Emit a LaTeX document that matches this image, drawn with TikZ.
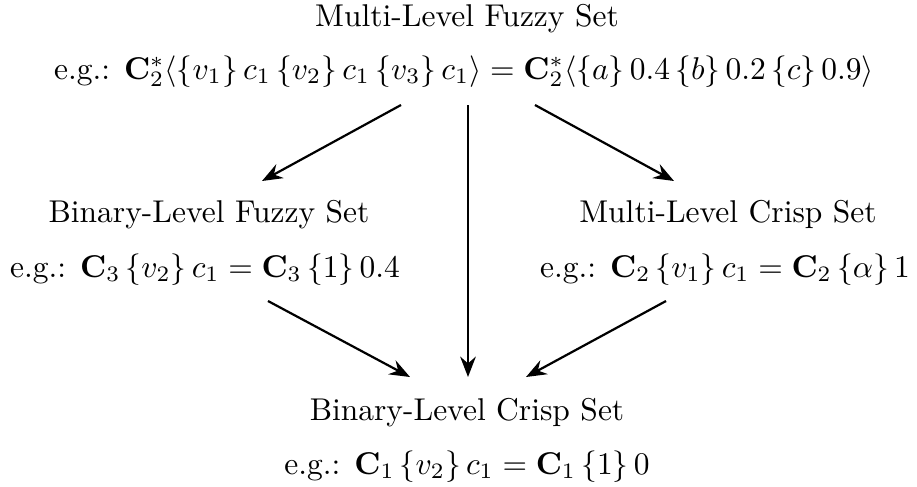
\documentclass[tikz,border=0pt]{standalone}
\usetikzlibrary{arrows.meta}
\begin{document}
\begin{tikzpicture}[x=0.31746pt,y=-0.31746pt,
  lbl/.style={inner sep=0pt, anchor=base},
  conn/.style={-{Stealth[length=6.5pt,width=5pt,inset=2.2pt]}, line width=0.7pt}]
\useasboundingbox (0,0) rectangle (917,486);
% top block
\node[lbl] (t1) at (467,26) {Multi-Level Fuzzy Set};
\node[lbl] (t2) at (464,79) {e.g.: $\mathbf{C}_2^*\langle\{v_1\}\,c_1\,\{v_2\}\,c_1\,\{v_3\}\,c_1\rangle = \mathbf{C}_2^*\langle\{a\}\,0.4\,\{b\}\,0.2\,\{c\}\,0.9\rangle$};
% left block
\node[lbl] (l1) at (209,222) {Binary-Level Fuzzy Set};
\node[lbl] (l2) at (205,277) {e.g.: $\mathbf{C}_3\,\{v_2\}\,c_1 = \mathbf{C}_3\,\{1\}\,0.4$};
% right block
\node[lbl] (r1) at (728,222) {Multi-Level Crisp Set};
\node[lbl] (r2) at (725,277) {e.g.: $\mathbf{C}_2\,\{v_1\}\,c_1 = \mathbf{C}_2\,\{\alpha\}\,1$};
% bottom block
\node[lbl] (b1) at (467,420) {Binary-Level Crisp Set};
\node[lbl] (b2) at (467,474) {e.g.: $\mathbf{C}_1\,\{v_2\}\,c_1 = \mathbf{C}_1\,\{1\}\,0$};
% connector ends
\coordinate (a1s) at (401,105); \coordinate (a1e) at (262,181);
\coordinate (a2s) at (468,105); \coordinate (a2e) at (468,377);
\coordinate (a3s) at (535,105); \coordinate (a3e) at (674,181);
\coordinate (a4s) at (268,301); \coordinate (a4e) at (410,377);
\coordinate (a5s) at (666,301); \coordinate (a5e) at (526,377);
\draw[conn] (a1s) -- (a1e);
\draw[conn] (a2s) -- (a2e);
\draw[conn] (a3s) -- (a3e);
\draw[conn] (a4s) -- (a4e);
\draw[conn] (a5s) -- (a5e);
\end{tikzpicture}
\end{document}
